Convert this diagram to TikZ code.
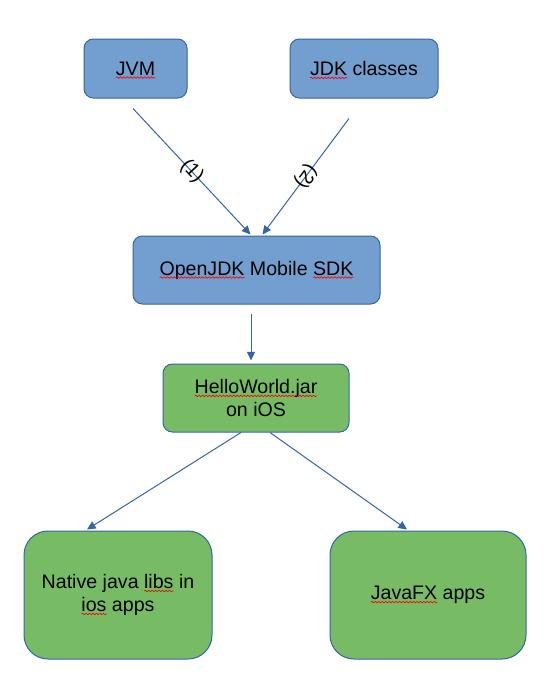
\documentclass[tikz,border=0pt]{standalone}
\usepackage{fontspec}
\setmainfont{Liberation Sans}
\usetikzlibrary{arrows.meta,calc,decorations.pathmorphing}
\definecolor{boxblue}{HTML}{729FCF}
\definecolor{boxgreen}{HTML}{77BC65}
\definecolor{edgeblue}{HTML}{3465A4}
\newsavebox\sqbox
\newcommand\sq[1]{\sbox\sqbox{#1}\usebox\sqbox\tikz[overlay,baseline=0pt]{\draw[red,line width=0.5pt,sharp corners,solid,-,decorate,decoration={snake,amplitude=0.55pt,segment length=2.6pt}] ({-\the\wd\sqbox},-1.8pt) -- (0pt,-1.8pt);}}
\begin{document}
\begin{tikzpicture}[x=0.75pt,y=-0.75pt,
  box/.style={draw=edgeblue,line width=0.75pt,align=center,inner sep=0pt,
    font=\fontsize{14.7}{17.25}\selectfont},
  bluebox/.style={box,fill=boxblue,rounded corners=7pt},
  greenbox/.style={box,fill=boxgreen,rounded corners=7pt},
  bigbox/.style={box,fill=boxgreen,rounded corners=18pt},
  arr/.style={draw=edgeblue,line width=0.75pt,-{Triangle[length=6.5pt,width=6pt]}},
  lbl/.style={font=\fontsize{14.7}{17.25}\selectfont,sloped,allow upside down,inner sep=1pt}]
\useasboundingbox (0,0) rectangle (553,689);
\node[bluebox,minimum width=77.25pt,minimum height=44.25pt] (jvm) at (135.5,68.5) {\sq{JVM}};
\node[bluebox,minimum width=111pt,minimum height=44.25pt] (jdk) at (364,68.5) {\sq{JDK} classes};
\node[bluebox,minimum width=185.25pt,minimum height=51pt] (sdk) at (256.5,270) {\sq{OpenJDK} Mobile \sq{SDK}};
\node[greenbox,minimum width=139.5pt,minimum height=51pt] (hello) at (256,398) {\sq{HelloWorld.jar}\\on iOS};
\node[bigbox,minimum width=141pt,minimum height=96pt] (native) at (118,595) {Native java \sq{libs} in\\\sq{ios} apps};
\node[bigbox,minimum width=147pt,minimum height=96pt] (fx) at (428,595) {\sq{JavaFX} apps};
\coordinate (s1) at ($(jvm.south)+(-2.5,10)$);
\coordinate (s2) at ($(jdk.south)+(-15,20)$);
\draw[arr] (s1) -- node[lbl]{(1)} ($(sdk.north)+(-6,-1)$);
\draw[arr] (s2) -- node[lbl]{(2)} ($(sdk.north)+(6,-1)$);
\coordinate (s3) at ($(sdk.south)+(-5.5,9)$);
\draw[arr] (s3) -- ($(hello.north)+(-5,-3)$);
\draw[arr] ($(hello.south)+(-15,0)$) -- ($(native.north)+(-31,-1)$);
\draw[arr] ($(hello.south)+(14,0)$) -- ($(fx.north)+(-21,-1)$);
\end{tikzpicture}
\end{document}
